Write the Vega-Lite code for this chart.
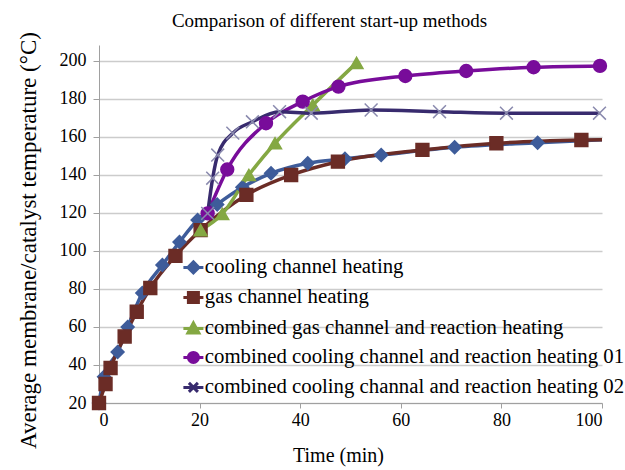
{
  "$schema": "https://vega.github.io/schema/vega-lite/v6.json",
  "width": 503,
  "height": 358,
  "autosize": {"type": "none"},
  "padding": {"left": 99, "top": 45, "right": 23, "bottom": 67},
  "background": "white",
  "config": {"view": {"stroke": null}, "font": "Liberation Serif", "axis": {"labelOverlap": false}},
  "title": {"text": "Comparison of different start-up methods", "font": "Liberation Serif", "fontSize": 19, "fontWeight": "normal", "color": "black", "anchor": "middle", "frame": "group", "dx": -21, "offset": 1},
  "data": {"values": [
    {"series": "cooling channel heating", "t": 0, "temp": 20},
    {"series": "cooling channel heating", "t": 1, "temp": 33.8},
    {"series": "cooling channel heating", "t": 3.7, "temp": 46.8},
    {"series": "cooling channel heating", "t": 5.7, "temp": 60},
    {"series": "cooling channel heating", "t": 8.6, "temp": 77.9},
    {"series": "cooling channel heating", "t": 12.6, "temp": 92.6},
    {"series": "cooling channel heating", "t": 16, "temp": 104.7},
    {"series": "cooling channel heating", "t": 19.6, "temp": 116.3},
    {"series": "cooling channel heating", "t": 23.5, "temp": 124.5},
    {"series": "cooling channel heating", "t": 28.5, "temp": 133.5},
    {"series": "cooling channel heating", "t": 34.2, "temp": 140.9},
    {"series": "cooling channel heating", "t": 41.5, "temp": 146.2},
    {"series": "cooling channel heating", "t": 48.9, "temp": 148.5},
    {"series": "cooling channel heating", "t": 56.1, "temp": 150.5},
    {"series": "cooling channel heating", "t": 70.7, "temp": 154.6},
    {"series": "cooling channel heating", "t": 87.2, "temp": 157},
    {"series": "cooling channel heating", "t": 100, "temp": 158.6},
    {"series": "gas channel heating", "t": 0, "temp": 20},
    {"series": "gas channel heating", "t": 1.3, "temp": 30},
    {"series": "gas channel heating", "t": 2.3, "temp": 38.4},
    {"series": "gas channel heating", "t": 5.1, "temp": 55},
    {"series": "gas channel heating", "t": 7.5, "temp": 68},
    {"series": "gas channel heating", "t": 10.2, "temp": 80.5},
    {"series": "gas channel heating", "t": 15.2, "temp": 97.4},
    {"series": "gas channel heating", "t": 20.2, "temp": 111},
    {"series": "gas channel heating", "t": 29.3, "temp": 129.5},
    {"series": "gas channel heating", "t": 38.2, "temp": 140},
    {"series": "gas channel heating", "t": 47.5, "temp": 147},
    {"series": "gas channel heating", "t": 64.3, "temp": 153.2},
    {"series": "gas channel heating", "t": 79, "temp": 156.7},
    {"series": "gas channel heating", "t": 95.9, "temp": 158.4},
    {"series": "gas channel heating", "t": 100, "temp": 158.6},
    {"series": "combined gas channel and reaction heating", "t": 20.2, "temp": 111},
    {"series": "combined gas channel and reaction heating", "t": 24.5, "temp": 119.5},
    {"series": "combined gas channel and reaction heating", "t": 29.8, "temp": 140},
    {"series": "combined gas channel and reaction heating", "t": 35, "temp": 156.7},
    {"series": "combined gas channel and reaction heating", "t": 42.5, "temp": 176.8},
    {"series": "combined gas channel and reaction heating", "t": 51.2, "temp": 199},
    {"series": "combined cooling channel and reaction heating 01", "t": 21.6, "temp": 119.8},
    {"series": "combined cooling channel and reaction heating 01", "t": 25.5, "temp": 142.9},
    {"series": "combined cooling channel and reaction heating 01", "t": 33.2, "temp": 167.2},
    {"series": "combined cooling channel and reaction heating 01", "t": 40.5, "temp": 178.6},
    {"series": "combined cooling channel and reaction heating 01", "t": 47.6, "temp": 186.5},
    {"series": "combined cooling channel and reaction heating 01", "t": 60.9, "temp": 192.1},
    {"series": "combined cooling channel and reaction heating 01", "t": 73, "temp": 194.7},
    {"series": "combined cooling channel and reaction heating 01", "t": 86.4, "temp": 196.7},
    {"series": "combined cooling channel and reaction heating 01", "t": 99.6, "temp": 197.4},
    {"series": "combined cooling channal and reaction heating 02", "t": 21.6, "temp": 119.8},
    {"series": "combined cooling channal and reaction heating 02", "t": 22.6, "temp": 138.3},
    {"series": "combined cooling channal and reaction heating 02", "t": 23.6, "temp": 150.5},
    {"series": "combined cooling channal and reaction heating 02", "t": 26.6, "temp": 162},
    {"series": "combined cooling channal and reaction heating 02", "t": 30.5, "temp": 168},
    {"series": "combined cooling channal and reaction heating 02", "t": 35.9, "temp": 173.3},
    {"series": "combined cooling channal and reaction heating 02", "t": 42.2, "temp": 172.5},
    {"series": "combined cooling channal and reaction heating 02", "t": 54.1, "temp": 174.2},
    {"series": "combined cooling channal and reaction heating 02", "t": 67.7, "temp": 173.3},
    {"series": "combined cooling channal and reaction heating 02", "t": 81, "temp": 172.5},
    {"series": "combined cooling channal and reaction heating 02", "t": 99.5, "temp": 172.5}
  ]},
  "encoding": {
    "x": {"field": "t", "type": "quantitative", "title": "Time (min)",
      "scale": {"domain": [0, 100], "nice": false},
      "axis": {"values": [0, 20, 40, 60, 80, 100], "grid": false, "labelOverlap": false, "domainColor": "#a0a0a0", "tickColor": "#a0a0a0", "tickSize": 5, "labelFont": "Liberation Serif", "labelFontSize": 18, "labelColor": "black", "labelPadding": 3, "titleFont": "Liberation Serif", "titleFontSize": 20, "titleFontWeight": "normal", "titleColor": "black", "titleX": 239, "titleY": 52, "titleBaseline": "middle"}},
    "y": {"field": "temp", "type": "quantitative", "title": "Average membrane/catalyst temperature (°C)",
      "scale": {"domain": [20, 208.4], "nice": false, "zero": false},
      "axis": {"values": [20, 40, 60, 80, 100, 120, 140, 160, 180, 200], "grid": true, "labelOverlap": false, "gridColor": "#cccccc", "gridWidth": 1.5, "domainColor": "#a0a0a0", "tickColor": "#a0a0a0", "tickSize": 6, "labelFont": "Liberation Serif", "labelFontSize": 18, "labelColor": "black", "labelPadding": 7, "titleFont": "Liberation Serif", "titleFontSize": 23, "titleFontWeight": "normal", "titleColor": "black", "titleX": -71, "titleY": 195, "titleBaseline": "middle", "titleAngle": -90}}
  },
  "layer": [
    {
      "mark": {"type": "line", "strokeWidth": 3.5, "interpolate": "monotone"},
      "encoding": {
        "color": {"field": "series", "type": "nominal",
          "scale": {"domain": ["cooling channel heating", "gas channel heating", "combined gas channel and reaction heating", "combined cooling channel and reaction heating 01", "combined cooling channal and reaction heating 02"],
                    "range": ["#3E5C9A", "#6B2C26", "#84A843", "#780C9A", "#382B6E"]},
          "legend": {"orient": "none", "legendX": 84, "legendY": 212, "title": null, "padding": 0,
            "labelFont": "Liberation Serif", "labelFontSize": 20.8, "labelColor": "black", "labelLimit": 600, "labelOffset": 1,
            "symbolSize": 100, "symbolStrokeWidth": 3, "rowPadding": 7,
            "encode": {"symbols": {"update": {
              "shape": {"signal": "datum.value === 'cooling channel heating' ? 'M-2,0L2,0M0,-1.1L1.1,0L0,1.1L-1.1,0Z' : datum.value === 'gas channel heating' ? 'M-2,0L2,0M-1,-1L1,-1L1,1L-1,1Z' : datum.value === 'combined gas channel and reaction heating' ? 'M-2,0L2,0M0,-1.1L1.1,0.9L-1.1,0.9Z' : datum.value === 'combined cooling channel and reaction heating 01' ? 'M-2,0L2,0M-1,0A1,1,0,1,1,1,0A1,1,0,1,1,-1,0Z' : 'M-2,0L2,0M-0.9,-0.9L0.9,0.9M-0.9,0.9L0.9,-0.9'"},
              "fill": {"signal": "scale('color', datum.value)"},
              "stroke": {"signal": "scale('color', datum.value)"},
              "strokeWidth": {"value": 3}
            }}}}
        },
        "order": {"field": "t", "type": "quantitative"}
      }
    },
    {
      "transform": [{"filter": "!(datum.t == 100 && (datum.series == 'cooling channel heating' || datum.series == 'gas channel heating'))"}],
      "mark": {"type": "point", "filled": true, "size": 165, "strokeWidth": 1.5, "opacity": 1},
      "encoding": {
        "shape": {"field": "series", "type": "nominal",
          "scale": {"domain": ["combined cooling channal and reaction heating 02", "combined cooling channel and reaction heating 01", "combined gas channel and reaction heating", "gas channel heating", "cooling channel heating"],
                    "range": ["M-1,-1L1,1M-1,1L1,-1", "circle", "triangle-up", "square", "diamond"]},
          "legend": null},
        "fill": {"field": "series", "type": "nominal",
          "scale": {"domain": ["combined cooling channal and reaction heating 02", "combined cooling channel and reaction heating 01", "combined gas channel and reaction heating", "gas channel heating", "cooling channel heating"],
                    "range": ["#382B6E", "#780C9A", "#84A843", "#6B2C26", "#3E5C9A"]},
          "legend": null},
        "stroke": {"field": "series", "type": "nominal",
          "scale": {"domain": ["combined cooling channal and reaction heating 02", "combined cooling channel and reaction heating 01", "combined gas channel and reaction heating", "gas channel heating", "cooling channel heating", "x"],
                    "range": ["#8A8AAE", "#780C9A", "#84A843", "#6B2C26", "#3E5C9A", "#000000"]},
          "legend": null}
      }
    }
  ]
}
